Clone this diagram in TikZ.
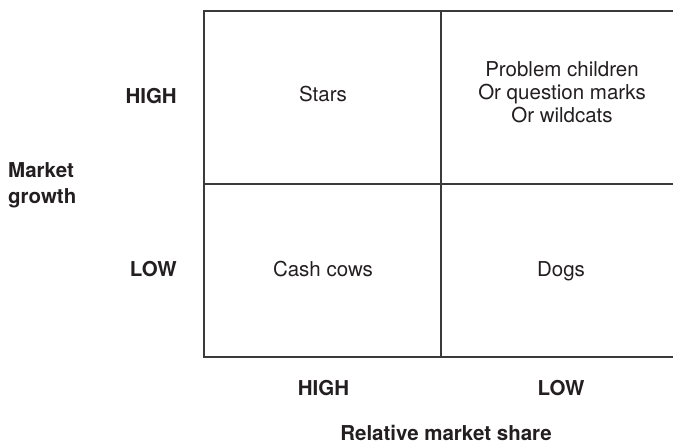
\documentclass[tikz,border=0pt]{standalone}
\usepackage{fontspec}
\setmainfont{TeX Gyre Heros}
\usetikzlibrary{positioning}
\definecolor{inkgray}{HTML}{231F20}
\definecolor{linegray}{HTML}{3A3A3A}

\begin{document}
\begin{tikzpicture}[x=1pt, y=-1pt, text=inkgray,
    cell/.style={font=\fontsize{20.5}{23.5}\selectfont, align=center, anchor=base, inner sep=0pt},
    axislabel/.style={font=\fontsize{20.5}{26}\selectfont\bfseries, inner sep=0pt}]
    \useasboundingbox (0,0) rectangle (673,444);

    % Matrix
    \draw[linegray, line width=1.6pt] (204,11) rectangle (678,357);
    \draw[linegray, line width=1.6pt] (441,11) -- (441,357);
    \draw[linegray, line width=1.6pt] (204,184) -- (678,184);

    % Cells
    \node[cell] (stars) at (323,102) {Stars};
    \node[cell] (problem) at (562,123) {Problem children\\Or question marks\\Or wildcats};
    \node[cell] (cows) at (323,276) {Cash cows};
    \node[cell] (dogs) at (561,276) {Dogs};

    % Market growth axis
    \node[axislabel, anchor=base east] (growthhigh) at (177,103) {HIGH};
    \node[axislabel, anchor=base east] (growthlow) at (177,276) {LOW};
    \node[axislabel, anchor=base west, align=left] (growth) at (8,204) {Market\\growth};

    % Relative market share axis
    \node[axislabel, anchor=base] (sharehigh) at (323.5,395) {HIGH};
    \node[axislabel, anchor=base] (sharelow) at (561,395) {LOW};
    \node[axislabel, anchor=base] (share) at (446,440.5) {Relative market share};
\end{tikzpicture}
\end{document}
